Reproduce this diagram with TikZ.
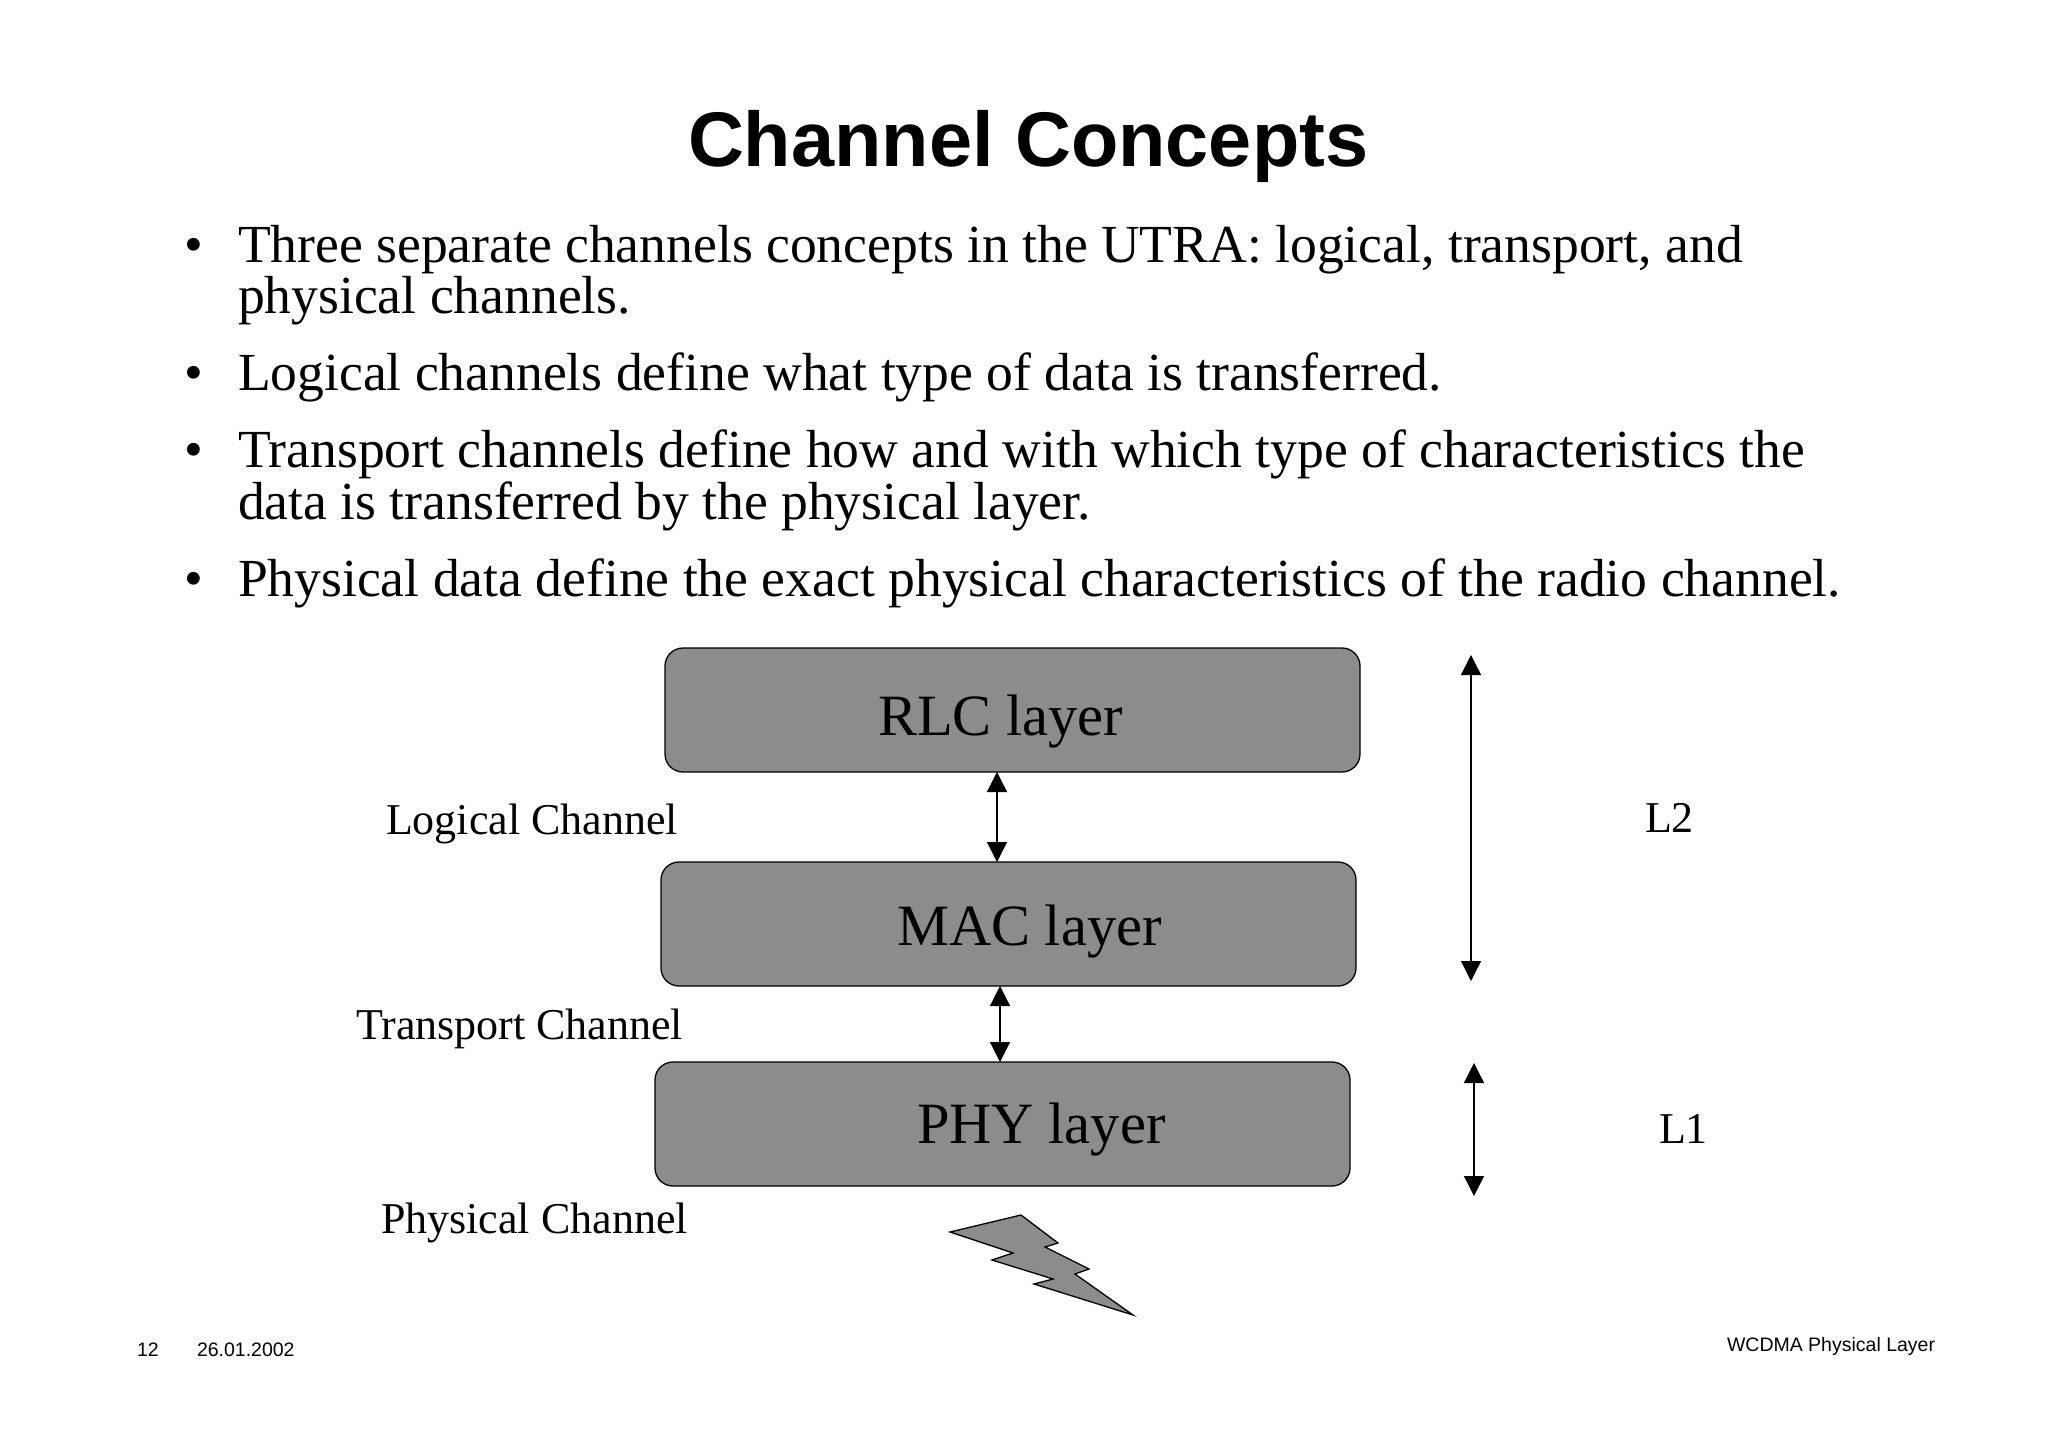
\documentclass[tikz,border=0pt]{standalone}
\usepackage{fontspec}
\setmainfont{Liberation Serif}
\newfontfamily\arialf{Liberation Sans}
\usetikzlibrary{arrows.meta}
\definecolor{boxgray}{HTML}{8C8C8C}
\tikzset{
  lay/.style={draw=black,fill=boxgray,rounded corners=18pt,line width=1.3pt,inner sep=0pt,outer sep=0pt,minimum width=695pt,minimum height=124pt},
  txt/.style={anchor=base west,inner sep=0pt,outer sep=0pt,text=black},
  titletxt/.style={txt,font=\arialf\bfseries\fontsize{77.5}{78}\selectfont},
  bul/.style={txt,font=\fontsize{53.6}{54}\selectfont},
  laytxt/.style={txt,font=\fontsize{58.5}{60}\selectfont},
  sidetxt/.style={txt,font=\fontsize{44}{44}\selectfont},
  foot/.style={txt,font=\arialf\fontsize{19.5}{20}\selectfont},
  dbl/.style={{Triangle[width=20pt,length=20pt]}-{Triangle[width=20pt,length=20pt]},line width=1.3pt,draw=black},
}
\begin{document}
\begin{tikzpicture}[x=1pt,y=-1pt]
\useasboundingbox[fill=white] (0,0) rectangle (2048,1447);
\node[titletxt] (title) at (688,167) {Channel Concepts};
\node[bul] (b1) at (184,263) {•};
\node[bul] (t1) at (238,263) {Three separate channels concepts in the UTRA: logical, transport, and};
\node[bul] (t1b) at (238,313) {physical channels.};
\node[bul] (b2) at (184,390) {•};
\node[bul] (t2) at (238,390) {Logical channels define what type of data is transferred.};
\node[bul] (b3) at (184,467) {•};
\node[bul] (t3) at (238,467) {Transport channels define how and with which type of characteristics the};
\node[bul] (t3b) at (238,519) {data is transferred by the physical layer.};
\node[bul] (b4) at (184,596) {•};
\node[bul] (t4) at (238,596) {Physical data define the exact physical characteristics of the radio channel.};
\node[lay] (rlc) at (1012.5,710) {};
\node[lay] (mac) at (1008.5,924) {};
\node[lay] (phy) at (1002.5,1124) {};
\node[laytxt] (rlct) at (878,735) {RLC layer};
\node[laytxt] (mact) at (897,945) {MAC layer};
\node[laytxt] (phyt) at (917,1143) {PHY layer};
\node[sidetxt] (lc) at (386,834) {Logical Channel};
\node[sidetxt] (tc) at (356,1039.5) {Transport Channel};
\node[sidetxt] (pc) at (381,1233.5) {Physical Channel};
\node[sidetxt] (l2) at (1645,832) {L2};
\node[sidetxt] (l1) at (1659,1143) {L1};
\coordinate (a1) at (997,0);
\coordinate (a2) at (1000,0);
\draw[dbl] (rlc.south -| a1) -- (mac.north -| a1);
\draw[dbl] (mac.south -| a2) -- (phy.north -| a2);
\coordinate (l2t) at (1471,655);
\coordinate (l2b) at (1471,981);
\coordinate (l1t) at (1474,1063);
\coordinate (l1b) at (1474,1196);
\draw[dbl] (l2t) -- (l2b);
\draw[dbl] (l1t) -- (l1b);
\draw[fill=boxgray,line width=1.3pt,line join=miter] (950,1232) -- (1021,1215) -- (1058,1243) -- (1045,1247) -- (1089,1269) -- (1075,1274) -- (1133,1315) -- (1034,1284) -- (1053,1279) -- (992,1260) -- (1013,1253) -- cycle;
\node[foot] (pg) at (137,1356) {12};
\node[foot] (dt) at (197,1356) {26.01.2002};
\node[foot] (ft) at (1727,1351) {WCDMA Physical Layer};
\end{tikzpicture}
\end{document}
